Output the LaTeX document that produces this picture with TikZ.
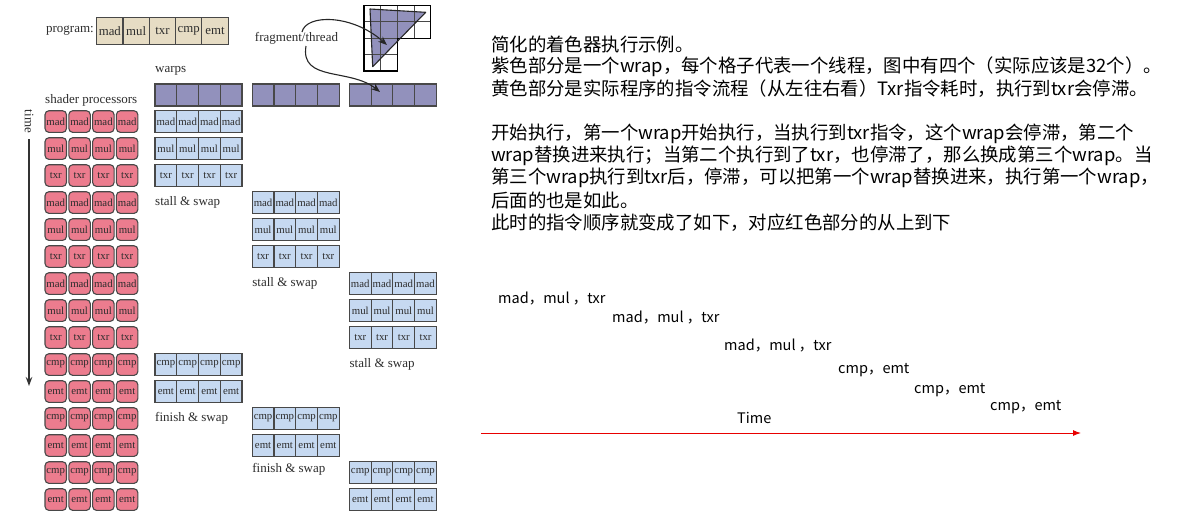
\documentclass[tikz,border=0pt]{standalone}
\usepackage{fontspec}
\setmainfont{Liberation Serif}
\newfontfamily\cjk{Noto Sans CJK SC}
\usetikzlibrary{arrows.meta}
\definecolor{pinkc}{RGB}{236,124,142}
\definecolor{bluec}{RGB}{198,217,241}
\definecolor{purplec}{RGB}{146,145,188}
\definecolor{beigec}{RGB}{230,220,196}
\definecolor{bordc}{RGB}{72,72,72}
\definecolor{txtc}{RGB}{45,45,45}
\definecolor{arrred}{RGB}{232,0,0}
\begin{document}
\begin{tikzpicture}[x=1pt,y=-1pt,
  pbox/.style={draw=bordc, line width=1.1pt, fill=pinkc, rounded corners=4pt,
    minimum width=21.5pt, minimum height=21.7pt, inner sep=0pt,
    font=\fontsize{10.8}{10.8}\selectfont, text=txtc},
  bcell/.style={draw=bordc, line width=1.1pt, fill=bluec,
    minimum width=21.75pt, minimum height=21.7pt, inner sep=0pt,
    font=\fontsize{10.8}{10.8}\selectfont, text=txtc},
  wcell/.style={draw=bordc, line width=1.1pt, fill=purplec,
    minimum width=21.75pt, minimum height=22pt, inner sep=0pt},
  progcell/.style={draw=bordc, line width=1.1pt, fill=beigec,
    minimum width=26.3pt, minimum height=26.7pt, inner sep=0pt,
    font=\fontsize{12.8}{12.8}\selectfont, text=txtc},
  lbl/.style={font=\fontsize{13}{13}\selectfont, text=txtc, inner sep=0pt, anchor=west},
  zh/.style={font=\cjk\fontsize{18.4}{18.4}\selectfont, inner sep=0pt, anchor=west},
  seq/.style={font=\cjk\fontsize{14.5}{14.5}\selectfont, inner sep=0pt, anchor=west},
  curvearrow/.style={line width=1.1pt, black!85, -{Stealth[length=9pt,width=7pt]}}
]
\fill[white] (0,0) rectangle (1178,520);
\useasboundingbox (0,0) rectangle (1178,520);

% program row
\node[lbl, anchor=east] (proglbl) at (94,31) {program:};
\foreach \op [count=\i from 0] in {mad,mul,txr,cmp,emt}{
  \node[progcell] (prog\i) at ({96.7+13.15+26.3*\i},30.7) {\op};
}

% triangle and grid
\fill[purplec] (370,9) -- (425.7,12.3) -- (372.7,66.7) -- cycle;
\draw[bordc, line width=0.9pt] (364,21.7) -- (430.7,21.7)
  (364,38.3) -- (397.3,38.3) (364,54.3) -- (397.3,54.3)
  (380.7,5.7) -- (380.7,71) (397.3,5.7) -- (397.3,38.3) (414,5.7) -- (414,38.3);
\draw[black, line width=1.4pt] (364,5.7) -- (430.7,5.7) -- (430.7,38.3) -- (397.3,38.3)
  -- (397.3,71) -- (364,71) -- cycle;
\draw[black!85, line width=1.1pt, line join=round] (370,9) -- (425.7,12.3) -- (372.7,66.7) -- cycle;

% labels
\node[lbl, anchor=center] (frag) at (296.5,38.5) {fragment/thread};
\node[lbl] (warpslbl) at (155,71) {warps};
\node[lbl] (splbl) at (45,100) {shader processors};
\node[lbl, anchor=center, rotate=-90] (timelbl) at (29,121.5) {time};

% curved arrows
\coordinate (fa) at (302,32);
\coordinate (fb) at (306,46);
\coordinate (tri) at (387,45);
\draw[curvearrow] (fa) .. controls (306,14) and (352,14) .. (tri);

% warps
\foreach \g in {0,1,2}{
  \foreach \c in {0,1,2,3}{
    \node[wcell] (w\g-\c) at ({155+97.2*\g+10.875+21.75*\c},95) {};
  }
}
\coordinate (wt) at (380,92);
\draw[curvearrow] (fb) .. controls (300,82) and (350,68) .. (wt);

% shader processors (pink)
\foreach \op [count=\r from 0] in {mad,mul,txr,mad,mul,txr,mad,mul,txr,cmp,emt,cmp,emt,cmp,emt}{
  \foreach \c in {0,1,2,3}{
    \node[pbox] (p\r-\c) at ({45+10.75+23.8*\c},{121.55+27*\r}) {\op};
  }
}

% time arrow
\coordinate (t0) at (29,139);
\coordinate (t1) at (29,386);
\draw[line width=1.1pt, black!80, -{Stealth[length=9pt,width=6.5pt]}] (t0) -- (t1);

% warp execution (blue)
\foreach \g in {0,1,2}{
  \pgfmathsetmacro{\xo}{155+97.2*\g}
  \foreach \op [count=\k from 0] in {mad,mul,txr}{
    \pgfmathsetmacro{\yy}{121.55+27*(3*\g+\k)}
    \foreach \c in {0,1,2,3}{
      \node[bcell] (b\g-\k-\c) at ({\xo+10.875+21.75*\c},\yy) {\op};
    }
  }
  \foreach \op [count=\k from 3] in {cmp,emt}{
    \pgfmathsetmacro{\yy}{121.55+27*(9+2*\g+\k-3)}
    \foreach \c in {0,1,2,3}{
      \node[bcell] (b\g-\k-\c) at ({\xo+10.875+21.75*\c},\yy) {\op};
    }
  }
  \node[lbl] (stall\g) at (\xo,{121.55+27*(3*\g+3)}) {stall \& swap};
}
\node[lbl] (fin0) at (155,{121.55+27*11}) {finish \& swap};
\node[lbl] (fin1) at (252.2,{121.55+27*13-3}) {finish \& swap};

% right-hand text
\foreach \t [count=\k from 0] in {
  {简化的着色器执行示例。},
  {紫色部分是一个wrap，每个格子代表一个线程，图中有四个（实际应该是32个）。},
  {黄色部分是实际程序的指令流程（从左往右看）Txr指令耗时，执行到txr会停滞。}}{
  \node[zh] (za\k) at (491,{44.5+22.3*\k}) {\t};
}
\foreach \t [count=\k from 0] in {
  {开始执行，第一个wrap开始执行，当执行到txr指令，这个wrap会停滞，第二个},
  {wrap替换进来执行；当第二个执行到了txr，也停滞了，那么换成第三个wrap。当},
  {第三个wrap执行到txr后，停滞，可以把第一个wrap替换进来，执行第一个wrap，},
  {后面的也是如此。},
  {此时的指令顺序就变成了如下，对应红色部分的从上到下}}{
  \node[zh] (zb\k) at (491,{133.7+22.3*\k}) {\t};
}

% sequence
\node[seq] (s1) at (498,298) {mad，mul ，txr};
\node[seq] (s2) at (612,317) {mad，mul ，txr};
\node[seq] (s3) at (724,345) {mad，mul ，txr};
\node[seq] (s4) at (838,370) {cmp，emt};
\node[seq] (s5) at (914,390) {cmp，emt};
\node[seq] (s6) at (990,407) {cmp，emt};
\node[seq] (timeR) at (737,418) {Time};
\coordinate (ra) at (481,433);
\coordinate (rb) at (1081,433);
\draw[arrred, line width=1pt, -{Latex[length=8pt,width=6pt]}] (ra) -- (rb);
\end{tikzpicture}
\end{document}
